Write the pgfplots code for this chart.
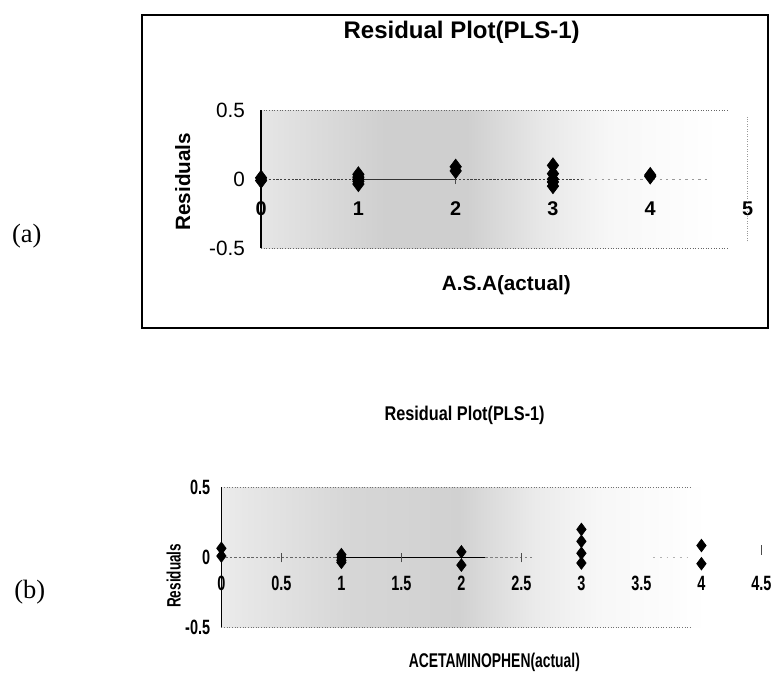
\documentclass[border=0pt]{standalone}
\usepackage{fontspec}
\setmainfont{Liberation Sans}
\newfontfamily\seriffont{Liberation Serif}
\newfontfamily\narrow[FakeStretch=0.7]{Liberation Sans}
\newfontfamily\narrowT[FakeStretch=0.82]{Liberation Sans}
\usepackage{pgfplots}
\pgfplotsset{compat=1.18}

\pgfdeclarehorizontalshading{speckA}{100bp}{color(0bp)=(black!10); color(25bp)=(black!10); color(38bp)=(black!19); color(46bp)=(black!19); color(54bp)=(black!9); color(61bp)=(black!3); color(72bp)=(white); color(100bp)=(white)}
\pgfdeclarehorizontalshading{speckB}{100bp}{color(0bp)=(black!8); color(25bp)=(black!8); color(37bp)=(black!16); color(47bp)=(black!18); color(54bp)=(black!8); color(60bp)=(black!3); color(70bp)=(white); color(100bp)=(white)}

\begin{document}
\begin{tikzpicture}
\path (0,0) rectangle (466.2pt,406.8pt);

% frame of chart (a)
\draw[line width=1.1pt] (85.8pt,397.8pt) rectangle (464.4pt,208.8pt);

\node[font=\seriffont\fontsize{16}{18}\selectfont] at (16.2pt,264pt) {(a)};
\node[font=\seriffont\fontsize{16}{18}\selectfont] at (18pt,49.2pt) {(b)};

% ---------------- (a) ----------------
\node[font=\bfseries\fontsize{14.5}{16}\selectfont] at (279pt,387pt) {Residual Plot(PLS-1)};
\node[font=\bfseries\fontsize{12.5}{14}\selectfont] at (306pt,234.6pt) {A.S.A(actual)};
\node[font=\bfseries\fontsize{12.5}{14}\selectfont, rotate=90] at (110.4pt,297pt) {Residuals};

\begin{axis}[
  at={(157.8pt,256.8pt)}, anchor=south west,
  scale only axis, width=294pt, height=83.4pt,
  xmin=0, xmax=5, ymin=-0.5, ymax=0.5,
  axis line style={draw=none},
  axis background/.style={shade, shading=speckA},
  xtick={0,1,2,3,4,5}, ytick={-0.5,0,0.5},
  xtick pos=bottom, ytick pos=left,
  major tick length=0pt,
  /pgf/number format/assume math mode=true,
  xticklabel style={anchor=center, yshift=24pt, font=\bfseries\fontsize{12}{14}\selectfont},
  yticklabel style={anchor=east, inner sep=0pt, xshift=-9.6pt, font=\fontsize{12.5}{14}\selectfont},
  clip=false,
]
\draw[black!60, densely dotted, line width=0.6pt] (rel axis cs:0,1) -- (rel axis cs:0.96,1);
\draw[black!60, densely dotted, line width=0.6pt] (rel axis cs:0,0) -- (rel axis cs:0.96,0);
\draw[black!40, densely dotted, line width=0.5pt] (rel axis cs:1,0.05) -- (rel axis cs:1,0.95);
\draw[black!75, dash pattern=on 1.4pt off 0.9pt, line width=0.55pt] (axis cs:0,0) -- (axis cs:3.3,0);
\draw[black!40, dash pattern=on 1.4pt off 2.5pt, line width=0.5pt] (axis cs:3.3,0) -- (axis cs:4.6,0);
\draw[line width=0.4pt, black!80] (axis cs:1,0) -- (axis cs:2,0);
\pgfplotsinvokeforeach{1,2,3,4}{\draw[black!70, line width=0.5pt] (axis cs:#1,-0.035) -- (axis cs:#1,0.035);}
\draw[line width=1pt] (axis cs:0,-0.5) -- (axis cs:0,0.5);
\addplot[only marks, mark=diamond*, mark size=4.6pt, black] coordinates {
  (0,0.01) (0,-0.01)
  (1,0.035) (1,0.015) (1,0) (1,-0.015) (1,-0.035)
  (2,0.09) (2,0.06)
  (3,0.1) (3,0.04) (3,0) (3,-0.02) (3,-0.05)
  (4,0.03) (4,0.02)
};
\end{axis}

% ---------------- (b) ----------------
\node[font=\narrowT\bfseries\fontsize{12}{14}\selectfont] at (280.8pt,156pt) {Residual Plot(PLS-1)};
\node[font=\narrow\bfseries\fontsize{12}{14}\selectfont] at (298.8pt,6.3pt) {ACETAMINOPHEN(actual)};
\node[font=\narrow\bfseries\fontsize{11.7}{14}\selectfont, rotate=90] at (105pt,58.8pt) {Residuals};

\begin{axis}[
  at={(133.8pt,27.6pt)}, anchor=south west,
  scale only axis, width=326.4pt, height=84.6pt,
  xmin=0, xmax=4.5, ymin=-0.5, ymax=0.5,
  axis line style={draw=none},
  axis background/.style={shade, shading=speckB},
  xtick={0,0.5,1,1.5,2,2.5,3,3.5,4,4.5}, ytick={-0.5,0,0.5},
  xtick pos=bottom, ytick pos=left,
  major tick length=0pt,
  /pgf/number format/assume math mode=true,
  xticklabel style={anchor=center, yshift=26.4pt, font=\narrow\bfseries\fontsize{12.5}{14}\selectfont},
  yticklabel style={anchor=east, inner sep=0pt, xshift=-6.6pt, font=\narrow\bfseries\fontsize{12.5}{14}\selectfont},
  clip=false,
]
\draw[black!55, densely dotted, line width=0.6pt] (rel axis cs:0,1) -- (rel axis cs:0.87,1);
\draw[black!55, densely dotted, line width=0.6pt] (rel axis cs:0,0) -- (rel axis cs:0.87,0);
\draw[black!60, dash pattern=on 1.4pt off 1.2pt, line width=0.5pt] (axis cs:0,0) -- (axis cs:1,0);
\draw[black, line width=0.7pt] (axis cs:1,0) -- (axis cs:2.2,0);
\draw[black!50, dash pattern=on 1.4pt off 1.6pt, line width=0.5pt] (axis cs:2.2,0) -- (axis cs:2.6,0);
\draw[black!30, dash pattern=on 1pt off 3pt, line width=0.5pt] (axis cs:3.6,0) -- (axis cs:3.9,0);
\pgfplotsinvokeforeach{0.5,1,1.5,2,2.5}{\draw[black!70, line width=0.5pt] (axis cs:#1,-0.035) -- (axis cs:#1,0.035);}
\draw[black!70, line width=0.6pt] (axis cs:4.5,0.02) -- (axis cs:4.5,0.09);
\draw[line width=0.9pt] (axis cs:0,-0.5) -- (axis cs:0,0.5);
\addplot[only marks, mark=diamond*, mark size=3.8pt, black] coordinates {
  (0,0.065) (0,0.01)
  (1,0.02) (1,0) (1,-0.02) (1,-0.035)
  (2,0.04) (2,-0.055)
  (3,0.2) (3,0.115) (3,0.03) (3,-0.04)
  (4,0.085) (4,-0.045)
};
\end{axis}
\end{tikzpicture}
\end{document}
